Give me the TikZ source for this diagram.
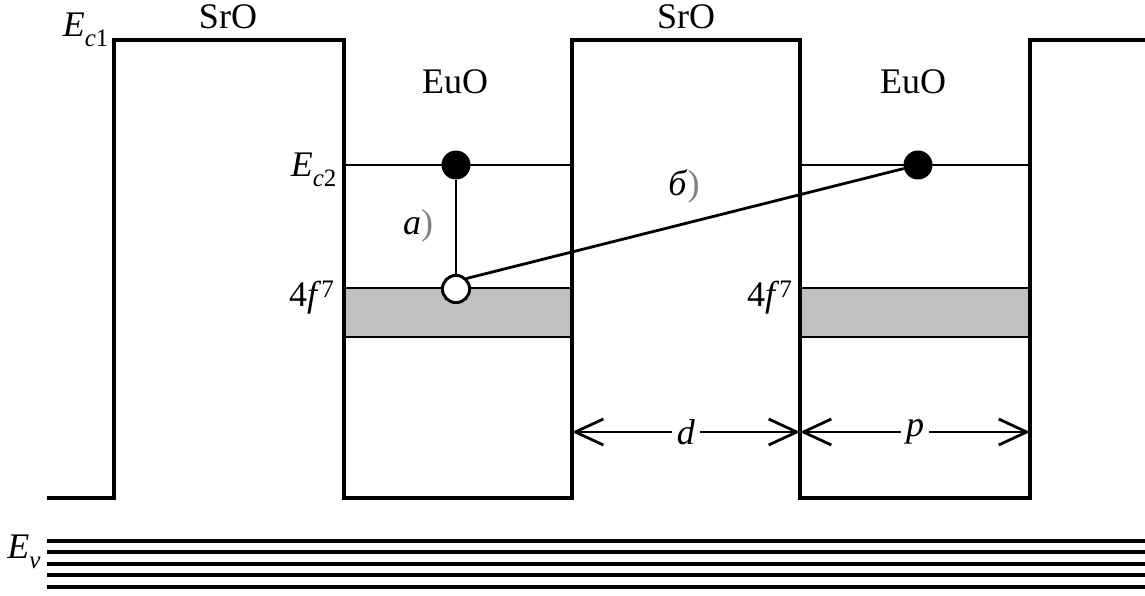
\documentclass[tikz,border=0pt]{standalone}
\usepackage{fontspec}
\setmainfont{Liberation Serif}
\usetikzlibrary{arrows.meta,positioning}
\definecolor{Band}{HTML}{C0C0C0}
\newcommand{\lbl}[2]{\textit{#1}\raisebox{-10pt}{\fontsize{25}{25}\selectfont#2}}
\begin{document}
\begin{tikzpicture}[x=1pt,y=-1pt,font=\fontsize{36}{40}\selectfont]
        \useasboundingbox(0,0)rectangle(1145,596);
        % 4f band
        \foreach \xa/\xb in {344/572,800/1030}{
          \fill[Band](\xa,288)rectangle(\xb,337);
          \draw[line width=2.8pt](\xa,165)--(\xb,165);
          \draw[line width=2.8pt](\xa,288)--(\xb,288);
          \draw[line width=2.8pt](\xa,337)--(\xb,337);
        }
        % well profile
        \draw[line width=3.8pt](47,498)--(114,498)--(114,40)--(344,40)--(344,498)--(572,498)--(572,40)--(800,40)--(800,498)--(1030,498)--(1030,40)--(1145,40);
        % valence levels
        \foreach \y in {541,552,564,575,587}\draw[line width=3.8pt](47,\y)--(1145,\y);
        % transitions
        \node[circle,fill=black,inner sep=0pt,minimum size=29pt](el1)at(456,165){};
        \node[circle,fill=black,inner sep=0pt,minimum size=29pt](el2)at(918,165){};
        \node[circle,draw,line width=2.8pt,fill=white,inner sep=0pt,minimum size=27pt](h1)at(456,289){};
        \draw[line width=2.8pt](el1)--(h1);
        \draw[line width=2.8pt](h1.north east)--(el2);
        \node[circle,draw,line width=2.8pt,fill=white,inner sep=0pt,minimum size=27pt]at(h1){};
        % labels
        \node[anchor=east](ec1)at(112,30){\lbl{E}{\textit{c}1}};
        \node(sro1)at(228,17){SrO};
        \node(sro2)at(686,17){SrO};
        \node(euo1)at(455,82){EuO};
        \node(euo2)at(913,82){EuO};
        \node[anchor=east](ec2)at(340,170){\lbl{E}{\textit{c}2}};
        \node[anchor=east](fa)at(338,298){4\textit{f}\textsuperscript{7}};
        \node[anchor=east](fb)at(796,298){4\textit{f}\textsuperscript{7}};
        \node(ta)at(418,226){\textit{a}{\color{black!50})}};
        \node(tb)at(684,186){\textit{б}{\color{black!50})}};
        \node[anchor=east](ev)at(44,552){\lbl{E}{\textit{v}}};
        % sizes
        \coordinate(d1)at(572,432);\coordinate(d2)at(800,432);\coordinate(d3)at(1030,432);
        \draw[line width=2.8pt,{Straight Barb[length=28pt,width=26pt]}-{Straight Barb[length=28pt,width=26pt]}](d1)--node[fill=white,inner xsep=5pt]{\textit{d}}(d2);
        \draw[line width=2.8pt,{Straight Barb[length=28pt,width=26pt]}-{Straight Barb[length=28pt,width=26pt]}](d2)--node[fill=white,inner xsep=5pt]{\textit{p}}(d3);
      \end{tikzpicture}
\end{document}
